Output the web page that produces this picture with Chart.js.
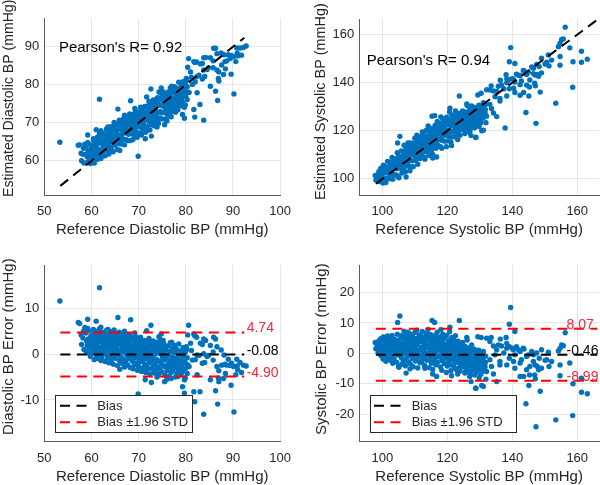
<!DOCTYPE html>
<html><head><meta charset="utf-8">
<script src="https://cdn.jsdelivr.net/npm/chart.js@4.4.1/dist/chart.umd.min.js"></script>
<style>
html,body{margin:0;padding:0;background:#fff;width:600px;height:485px;overflow:hidden;}
.p{position:absolute;}
canvas{display:block;}
</style></head><body>
<div class="p" style="left:0;top:0"><canvas id="c1" width="300" height="240" style="width:300px;height:240px"></canvas></div>
<div class="p" style="left:300px;top:0"><canvas id="c2" width="300" height="240" style="width:300px;height:240px"></canvas></div>
<div class="p" style="left:0;top:240px"><canvas id="c3" width="300" height="245" style="width:300px;height:245px"></canvas></div>
<div class="p" style="left:300px;top:240px"><canvas id="c4" width="300" height="245" style="width:300px;height:245px"></canvas></div>
<script>
// ---------------- DATA ----------------
// Diastolic: reference value and error (estimated - reference)
const refDia = [
 57.8,57.9,58.2,58.4,58.3,
 58.8,59.0,58.9,59.1,59.4,59.3,59.5,59.4,59.6,
 59.9,60.0,59.8,60.1,59.9,60.4,60.3,60.5,60.4,60.6,60.3,
 60.9,61.0,60.8,61.1,60.9,61.0,61.3,61.4,61.2,61.3,61.5,61.4,
 61.8,61.9,61.7,62.0,61.8,61.9,61.7,62.3,62.2,62.4,62.3,62.5,62.2,
 62.7,62.8,62.6,62.9,62.7,62.8,63.2,63.1,63.3,63.2,63.4,63.1,
 63.7,63.6,63.8,63.7,63.9,63.6,64.1,64.2,64.0,64.1,64.3,64.2,
 64.6,64.5,64.7,64.6,64.8,64.5,65.0,65.1,64.9,65.0,65.2,65.1,
 65.5,65.4,65.6,65.5,65.7,65.4,65.9,66.0,65.8,65.9,66.1,66.0,
 66.4,66.3,66.5,66.4,66.6,66.3,66.8,66.9,66.7,66.8,67.0,66.9,
 67.3,67.2,67.4,67.3,67.5,67.2,67.7,67.8,67.6,67.7,67.9,67.8,
 68.2,68.1,68.3,68.2,68.4,68.1,68.6,68.7,68.5,68.6,68.8,68.7,
 69.1,69.0,69.2,69.1,69.3,69.0,69.5,69.6,69.4,69.5,69.7,69.6,
 70.0,69.9,70.1,70.0,70.2,69.9,70.4,70.5,70.3,70.4,70.6,70.5,
 70.9,70.8,71.0,70.9,71.1,70.8,71.3,71.4,71.2,71.3,71.5,71.4,
 71.8,71.7,71.9,71.8,72.0,71.7,72.2,72.3,72.1,72.2,72.4,72.3,
 72.7,72.6,72.8,72.7,72.9,72.6,73.1,73.2,73.0,73.1,73.3,
 73.6,73.5,73.7,73.6,73.8,74.0,74.1,73.9,74.0,74.2,74.1,
 74.5,74.4,74.6,74.5,74.7,74.9,75.0,74.8,74.9,75.1,
 75.4,75.3,75.5,75.4,75.6,75.8,75.9,75.7,75.8,76.0,
 76.3,76.2,76.4,76.3,76.5,76.7,76.8,76.6,76.7,76.9,
 77.2,77.1,77.3,77.2,77.6,77.7,77.5,77.6,77.8,
 78.1,78.0,78.2,78.1,78.5,78.6,78.4,78.5,
 79.0,78.9,79.1,79.0,79.4,79.5,79.3,79.4,
 79.9,79.8,80.0,79.9,80.3,80.4,80.2,
 53.3,61.7,57.2,57.5,59.2,61.0,65.6,68.3,72.6,59.2,62.0,71.7,74.8,
 80.6,80.4,81.9,82.3,83.8,86.3,83.1,85.2,86.6,87.5,85.8,88.1,
 89.0,89.7,90.8,91.5,92.2,92.8,90.9,90.1,88.7,86.6,85.8,84.5,
 83.5,82.4,81.4,80.7,80.3,79.7,79.3,79.7,81.7,81.9,83.0,83.8,
 86.3,86.75,90.2,89.6,88.0,87.0,85.2,82.4,69.9,71.4,72.7,75.5,
 76.9,78.3,78.6,81.0,81.7,82.8,83.5,84.2,85.9,86.9,88.3,89.4,
 90.6,91.8,87.6,83.8,80.1,81.2,82.0,84.0,84.8,87.0,88.4,91.0,
 63.5,64.8,67.0,69.2,66.0,60.5,58.6,77.0,76.0,73.9,74.3,75.2
];
const errDia = [
 4.2,2.1,3.5,1.0,5.0,
 4.6,2.8,0.6,1.9,5.1,3.3,1.4,0.2,2.5,
 4.0,2.2,-0.5,1.1,3.0,5.4,3.7,1.8,0.3,-1.2,2.6,
 4.5,2.9,1.2,-0.4,3.8,0.7,5.0,3.4,2.0,-0.9,1.5,0.1,
 4.1,2.7,1.0,-1.4,3.3,0.4,5.5,4.8,3.0,1.7,-0.2,2.3,-1.0,
 3.9,2.4,0.8,-1.6,4.5,1.4,5.2,3.6,1.9,0.0,-0.8,2.8,
 4.3,2.5,1.1,-1.9,3.4,0.5,4.9,3.1,1.6,-0.5,2.2,-1.3,
 3.8,2.0,0.3,-2.2,4.4,1.2,4.6,2.9,1.4,-0.9,0.6,3.6,
 3.3,1.8,-0.2,-2.5,4.1,2.5,4.8,2.6,0.9,-1.4,3.2,0.1,
 3.7,2.1,0.4,-2.0,1.3,-0.7,4.3,2.8,1.0,-1.1,-2.8,3.4,
 3.5,1.6,-0.1,-1.7,2.4,0.7,4.0,2.2,0.5,-2.4,-0.9,3.0,
 3.1,1.3,-0.4,-2.9,1.9,4.2,3.6,2.0,0.2,-1.5,-3.2,0.9,
 2.8,1.1,-0.8,-2.3,3.9,0.3,3.3,1.6,-0.2,-1.9,-3.5,2.4,
 2.5,0.8,-1.1,-2.7,1.5,-0.4,3.7,1.9,0.1,-1.6,-3.8,2.9,
 2.2,0.5,-1.3,-3.0,1.2,-0.6,3.0,1.4,-0.5,-2.2,-4.0,0.2,
 2.6,0.9,-1.0,-2.8,1.8,-3.6,3.4,1.5,-0.3,-1.9,-4.3,0.6,
 2.0,0.3,-1.5,-3.2,2.7,-0.7,2.9,1.0,-0.8,-2.5,-4.1,
 1.7,0.0,-1.8,-3.5,2.4,2.6,0.7,-1.2,-2.9,-4.4,1.5,
 1.9,0.2,-1.6,-3.3,3.1,1.2,-0.5,-2.2,-3.9,2.3,
 2.1,0.4,-1.3,-2.7,-4.6,0.9,-0.9,-2.5,1.6,-3.6,
 1.8,-0.2,-1.9,-3.1,-4.8,0.6,-1.4,-2.8,2.5,-4.0,
 1.3,-0.6,-2.2,-3.6,0.3,-1.6,-3.0,1.9,-5.0,
 1.0,-0.9,-2.5,-4.2,-0.1,-1.8,-3.4,2.2,
 0.7,-1.2,-2.7,-4.5,-0.4,-2.0,-3.8,1.4,
 0.4,-1.5,-3.1,-5.2,-0.8,-2.3,1.0,
 11.6,14.5,6.9,6.7,7.6,7.2,8.0,7.5,6.3,5.6,5.9,5.1,4.4,
 6.3,4.2,4.0,3.7,3.3,3.3,2.4,1.9,1.6,0.9,0.5,-0.2,
 -1.1,-2.0,-1.1,-1.8,-2.4,-2.6,-2.6,-2.7,-2.4,-2.7,-1.3,-0.5,
 -2.0,-0.2,-1.3,-2.7,-4.2,-5.6,-7.1,-8.5,-8.2,-10.4,-8.2,-13.1,
 -8.0,-10.9,-12.6,-6.8,-5.3,-6.0,-5.6,-4.5,-8.7,-5.6,-6.2,-6.0,
 -5.3,-4.9,-3.8,2.4,4.4,-0.3,2.1,3.0,3.7,-5.2,-2.2,-2.5,
 -4.5,-4.0,-2.4,0.1,1.6,0.8,-1.2,-1.8,-0.3,-3.6,-4.2,-3.4,
 5.4,5.3,5.0,4.6,-3.3,4.7,5.8,2.6,-5.5,-5.0,3.8,3.0
];
// Systolic: reference value and error (estimated - reference)
const refSys = [
 98.0,98.3,98.8,98.7,98.9,99.5,99.4,99.6,99.5,
 100.2,100.1,100.3,100.2,100.4,100.9,101.0,100.8,100.9,101.1,
 101.6,101.5,101.7,101.6,101.8,102.3,102.4,102.2,102.3,102.5,
 103.0,102.9,103.1,103.0,103.2,103.7,103.8,103.6,103.7,103.9,
 104.4,104.3,104.5,104.4,104.6,105.1,105.2,105.0,105.1,105.3,
 105.8,105.7,105.9,105.8,106.0,105.7,106.5,106.6,106.4,106.5,106.7,106.4,
 107.2,107.1,107.3,107.2,107.4,107.1,107.9,108.0,107.8,107.9,108.1,107.8,
 108.6,108.5,108.7,108.6,108.8,108.5,109.3,109.4,109.2,109.3,109.5,109.2,
 110.0,109.9,110.1,110.0,110.2,109.9,110.7,110.8,110.6,110.7,110.9,110.6,
 111.4,111.3,111.5,111.4,111.6,111.3,112.1,112.2,112.0,112.1,112.3,112.0,
 112.8,112.7,112.9,112.8,113.0,112.7,113.5,113.6,113.4,113.5,113.7,113.4,
 114.2,114.1,114.3,114.2,114.4,114.1,114.9,115.0,114.8,114.9,115.1,114.8,
 115.6,115.5,115.7,115.6,115.8,115.5,116.3,116.4,116.2,116.3,116.5,116.2,
 117.0,116.9,117.1,117.0,117.2,116.9,117.7,117.8,117.6,117.7,117.9,117.6,
 118.4,118.3,118.5,118.4,118.6,118.3,119.1,119.2,119.0,119.1,119.3,119.0,
 119.8,119.7,119.9,119.8,120.0,119.7,120.5,120.6,120.4,120.5,120.7,120.4,
 121.2,121.1,121.3,121.2,121.4,121.1,121.9,122.0,121.8,121.9,122.1,121.8,
 122.6,122.5,122.7,122.6,122.8,122.5,123.3,123.4,123.2,123.3,123.5,123.2,
 124.0,123.9,124.1,124.0,124.2,123.9,124.7,124.8,124.6,124.7,124.9,
 125.4,125.3,125.5,125.4,125.6,126.1,126.2,126.0,126.1,126.3,
 126.8,126.7,126.9,126.8,127.0,127.5,127.6,127.4,127.5,127.7,
 128.2,128.1,128.3,128.2,128.4,128.9,129.0,128.8,128.9,
 129.6,129.5,129.7,129.6,129.8,130.3,130.4,130.2,130.3,
 131.0,130.9,131.1,131.0,131.7,131.8,131.6,
 97.8,105.4,104.7,115.3,116.1,123.7,139.5,139.1,140.8,156.3,154.7,155.2,
 155.7,154.2,151.1,157.7,154.7,158.7,161.3,161.3,163.1,158.6,153.4,147.3,
 144.2,137.8,148.6,145.1,143.5,146.9,148.1,147.7,147.1,150.1,151.3,154.7,
 142.8,141.9,140.4,139.1,140.8,136.2,135.2,134.2,131.9,130.6,128.8,131.1,
 135.7,136.3,138.1,133.5,133.1,132.1,130.4,129.4,126.0,138.3,140.0,143.6,
 144.9,146.5,148.3,145.3,145.4,142.4,134.2,135.2,136.7,137.4,138.3,139.1,
 140.3,141.3,142.4,143.4,144.4,146.0,146.5,147.5,149.0,150.6,142.4,138.3,
 136.2,134.7,133.1,133.6,131.5,132.1,140.8,144.4,147.0,149.0,152.1,107.3,
 108.5,113.1,116.7,115.5,121.3,125.4,126.9,127.3,128.7,105.0,120.8,118.0
];
const errSys = [
 1.5,3.0,2.4,0.2,4.1,3.0,1.0,-0.8,4.8,
 2.1,0.4,5.4,-1.9,3.6,4.3,1.6,-0.6,2.8,-2.6,
 3.2,0.9,-1.4,5.7,1.9,4.6,2.4,0.1,-2.2,3.5,
 1.3,-0.9,3.9,5.9,-3.3,2.7,0.5,-1.8,4.7,1.8,
 3.6,1.2,-0.3,-2.9,6.3,2.2,-0.7,4.4,-4.6,1.0,
 3.3,0.8,-1.5,5.8,-3.6,2.0,4.9,1.6,-0.2,-2.6,7.3,3.1,
 2.6,0.3,-1.9,6.2,4.0,-4.1,3.8,1.1,-0.9,7.0,-2.8,5.2,
 2.3,-0.4,4.6,-3.5,1.4,6.4,3.1,0.6,-1.7,5.5,-4.4,2.0,
 4.2,1.5,-0.6,6.9,-2.5,3.0,2.7,0.2,-2.2,5.0,-4.8,7.6,
 3.7,1.0,-1.1,6.1,-3.1,4.6,2.0,-0.5,4.1,-2.7,7.2,5.6,
 3.3,0.7,-1.6,5.2,-4.0,1.9,4.4,1.8,-0.4,6.6,-2.3,2.9,
 2.5,0.1,-2.0,5.7,-4.7,7.9,3.6,1.2,-1.0,4.8,-3.3,6.2,
 2.1,-0.3,5.5,-2.6,3.9,-5.3,3.1,0.6,-1.5,6.0,-3.8,4.7,
 1.6,-0.8,4.3,-2.9,2.5,7.0,3.4,0.9,-1.2,5.4,-4.5,2.0,
 2.2,-0.2,3.8,-2.4,6.3,-5.6,1.3,-1.1,4.9,-3.4,2.8,0.3,
 3.0,0.5,-1.8,5.9,-4.2,-6.3,1.9,-0.6,4.2,-2.7,7.1,2.6,
 0.8,-1.5,3.3,-3.8,5.2,-5.7,2.4,0.0,-2.1,4.5,-4.6,1.3,
 1.1,-1.0,3.1,-3.0,-5.3,5.8,2.0,-0.3,-2.5,4.0,-4.9,-6.8,
 0.6,-1.7,2.8,-3.6,1.5,-5.8,1.7,-0.8,-2.8,3.6,-4.4,
 0.2,-2.0,2.3,-3.9,-6.0,1.3,-1.2,-3.2,4.4,-5.2,
 -0.2,-2.4,1.9,-4.6,-6.7,0.9,-1.6,-3.5,2.8,-5.5,
 -0.7,-2.9,1.4,-4.8,-7.1,0.4,-2.1,-4.1,-6.2,
 -1.1,-3.2,1.0,-5.3,-8.0,-0.3,-2.6,-4.6,-6.9,
 -1.7,-3.8,0.6,-5.8,-2.9,-0.9,-4.5,
 3.6,12.3,10.2,10.8,10.2,10.8,15.1,9.6,7.2,6.8,1.7,2.8,
 2.5,0.8,0.4,-3.2,-3.8,-10.0,-8.2,-12.8,-13.3,-20.5,-21.9,-24.2,
 -16.6,-16.6,-12.5,-10.6,-7.6,-7.1,-5.4,-4.3,-8.4,-2.3,-4.3,-7.4,
 -2.1,1.2,-2.7,-1.6,-0.5,-3.8,-9.3,-6.8,-8.5,-10.6,-11.5,-10.9,
 2.8,4.7,5.2,5.2,3.9,5.0,5.2,5.5,5.2,1.7,1.7,1.4,
 -0.5,-0.5,-1.6,-7.1,-4.3,-7.6,2.4,1.2,2.4,0.1,3.3,2.2,
 1.2,2.2,0.6,1.7,-1.0,0.6,-2.7,0.1,1.2,-2.1,-3.2,-3.8,
 -2.7,-0.5,-2.1,-4.3,-3.8,-6.0,-4.9,-5.4,-3.8,-4.9,-2.7,-6.5,
 -5.1,-4.9,-7.6,-6.8,-7.4,-6.5,-7.6,-9.3,-11.5,-4.3,8.6,7.8
];
// summary statistics shown on the plots
const pearsonDia = 0.92, pearsonSys = 0.94;
const biasDia = -0.08, upperDia = 4.74, lowerDia = -4.90;
const biasSys = -0.46, upperSys = 8.07, lowerSys = -8.99;
// extent of the reference lines along x
const lineRangeDia = [53.4, 92.4];
const lineRangeSys = [98.0, 166.2];

// ---------------- STYLE ----------------
const FONT = "'Liberation Sans', Arial, Helvetica, sans-serif";
const AX = '#262626';
const AXLINE = '#5c5c5c';
const GRID = '#e6e6e6';
const BLUE = '#0072BD';
const RED = '#ff0000';
const DASH = [10, 6.5];

function pts(xs, ys) {
  const n = Math.min(xs.length, ys.length), out = [];
  for (let i = 0; i < n; i++) out.push({x: xs[i], y: ys[i]});
  return out;
}
function estPts(ref, err) {
  const n = Math.min(ref.length, err.length), out = [];
  for (let i = 0; i < n; i++) out.push({x: ref[i], y: +(ref[i] + err[i]).toFixed(2)});
  return out;
}
function hline(range, v, color) {
  return {data: [{x: range[0], y: v}, {x: range[1], y: v}], showLine: true, borderColor: color,
    borderWidth: 2, borderDash: DASH, pointRadius: 0, pointHoverRadius: 0, fill: false, order: 0};
}
function idline(range) {
  return {data: [{x: range[0], y: range[0]}, {x: range[1], y: range[1]}], showLine: true, borderColor: '#000',
    borderWidth: 2, borderDash: DASH, pointRadius: 0, pointHoverRadius: 0, fill: false, order: 0};
}
function scatterSet(data) {
  return {data, showLine: false, pointRadius: 2.7, pointHoverRadius: 2.7, pointBorderWidth: 0,
    pointBackgroundColor: BLUE, backgroundColor: BLUE, borderColor: BLUE, order: 1};
}
function xScale(min, max, step, title, h, titlePad) {
  return {type: 'linear', position: 'bottom', min, max,
    ticks: {stepSize: step, includeBounds: false, color: AX, font: {family: FONT, size: 13}, padding: 9, maxRotation: 0, autoSkip: false},
    grid: {color: GRID, drawTicks: false, lineWidth: 1},
    border: {display: true, color: AXLINE, width: 1},
    title: {display: true, text: title, color: AX, font: {family: FONT, size: 15, lineHeight: 1}, padding: {top: 0, bottom: titlePad}},
    afterFit(s) { s.height = h; }};
}
function yScale(min, max, step, w, pad) {
  return {type: 'linear', position: 'left', min, max,
    ticks: {stepSize: step, includeBounds: false, color: AX, font: {family: FONT, size: 13}, padding: pad, autoSkip: false},
    grid: {color: GRID, drawTicks: false, lineWidth: 1},
    border: {display: true, color: AXLINE, width: 1},
    title: {display: false},
    afterFit(s) { s.width = w; }};
}

const extras = {
  id: 'extras',
  afterDraw(chart, args, o) {
    const ctx = chart.ctx, xs = chart.scales.x, ys = chart.scales.y, ca = chart.chartArea;
    ctx.save();
    if (o.yTitle) {
      ctx.save();
      ctx.translate(o.yTitle.x, o.yTitle.y);
      ctx.rotate(-Math.PI / 2);
      ctx.font = o.yTitle.size + 'px ' + FONT; ctx.fillStyle = AX; ctx.textAlign = 'left'; ctx.textBaseline = 'middle';
      ctx.fillText(o.yTitle.text, 0, 0);
      ctx.restore();
    }
    for (const a of (o.notes || [])) {
      ctx.font = a.size + 'px ' + FONT; ctx.fillStyle = a.color; ctx.textAlign = 'left';
      ctx.textBaseline = a.baseline || 'middle';
      ctx.fillText(a.text, xs.getPixelForValue(a.x), ys.getPixelForValue(a.y));
    }
    if (o.legend) {
      const L = o.legend;
      const left = ca.left + L.dx, bottom = ca.bottom - L.dy, top = bottom - L.h;
      ctx.fillStyle = '#fff';
      ctx.fillRect(left, top, L.w, L.h);
      ctx.strokeStyle = AX; ctx.lineWidth = 1; ctx.setLineDash([]);
      ctx.strokeRect(Math.round(left) + 0.5, Math.round(top) + 0.5, Math.round(L.w), Math.round(L.h));
      L.items.forEach((it, i) => {
        const cy = top + L.row0 + i * L.rowGap;
        ctx.strokeStyle = it.color; ctx.lineWidth = 2; ctx.setLineDash(DASH);
        ctx.beginPath(); ctx.moveTo(left + L.l0, cy); ctx.lineTo(left + L.l1, cy); ctx.stroke();
        ctx.setLineDash([]);
        ctx.font = '13px ' + FONT; ctx.fillStyle = AX; ctx.textAlign = 'left'; ctx.textBaseline = 'middle';
        ctx.fillText(it.label, left + L.tx, cy + 0.5);
      });
    }
    ctx.restore();
  }
};

function make(id, datasets, scales, pad, extrasOpts) {
  return new Chart(document.getElementById(id), {
    type: 'scatter',
    data: {datasets},
    options: {
      responsive: false, animation: false, devicePixelRatio: 1, events: [],
      layout: {padding: pad, autoPadding: false},
      plugins: {legend: {display: false}, tooltip: {enabled: false}, title: {display: false}, extras: extrasOpts},
      scales
    },
    plugins: [extras]
  });
}

const legendItems = [{label: 'Bias', color: '#000'}, {label: 'Bias \u00b11.96 STD', color: RED}];

// Top-left: estimated vs reference diastolic
make('c1', [idline(lineRangeDia), scatterSet(estPts(refDia, errDia))],
  {x: xScale(50, 100, 10, 'Reference Diastolic BP (mmHg)', 45, 2.5), y: yScale(51, 97.5, 10, 44.3, 5)},
  {top: 18.3, right: 16, left: 0, bottom: 0},
  {yTitle: {text: 'Estimated Diastolic BP (mmHg)', x: 9.5, y: 197, size: 14.1},
   notes: [{text: "Pearson's R= " + pearsonDia.toFixed(2), x: 53.1, y: 89.6, size: 15, color: '#000'}]});

// Top-right: estimated vs reference systolic
make('c2', [idline(lineRangeSys), scatterSet(estPts(refSys, errSys))],
  {x: xScale(92.9, 166.7, 20, 'Reference Systolic BP (mmHg)', 45, 2.5), y: yScale(93.3, 166.5, 20, 59.3, 5)},
  {top: 19, right: 1, left: 0, bottom: 0},
  {yTitle: {text: 'Estimated Systolic BP (mmHg)', x: 21, y: 200, size: 14.4},
   notes: [{text: "Pearson's R= " + pearsonSys.toFixed(2), x: 95.2, y: 149.1, size: 15, color: '#000'}]});

// Bottom-left: Bland-Altman diastolic
make('c3', [hline(lineRangeDia, biasDia, '#000'), hline(lineRangeDia, upperDia, RED), hline(lineRangeDia, lowerDia, RED),
            scatterSet(pts(refDia, errDia))],
  {x: xScale(50, 100, 10, 'Reference Diastolic BP (mmHg)', 43.3, 0.3), y: yScale(-19.1, 19.45, 10, 44.3, 5)},
  {top: 25, right: 16, left: 0, bottom: 0},
  {yTitle: {text: 'Diastolic BP Error (mmHg)', x: 9, y: 195, size: 15},
   notes: [
     {text: upperDia.toFixed(2), x: 92.9, y: upperDia, size: 14, color: '#f0283c', baseline: 'alphabetic'},
     {text: biasDia.toFixed(2), x: 92.9, y: biasDia, size: 14, color: '#000', baseline: 'alphabetic'},
     {text: lowerDia.toFixed(2), x: 92.9, y: lowerDia, size: 14, color: '#f0283c', baseline: 'alphabetic'}],
   legend: {dx: 10.7, dy: 9.4, w: 136.7, h: 37.3, row0: 10.7, rowGap: 16.6, l0: 5, l1: 31.7, tx: 42.3, items: legendItems}});

// Bottom-right: Bland-Altman systolic
make('c4', [hline(lineRangeSys, biasSys, '#000'), hline(lineRangeSys, upperSys, RED), hline(lineRangeSys, lowerSys, RED),
            scatterSet(pts(refSys, errSys))],
  {x: xScale(92.9, 166.7, 20, 'Reference Systolic BP (mmHg)', 43.3, 0.3), y: yScale(-29.1, 29.1, 10, 59.3, 5)},
  {top: 25, right: 1, left: 0, bottom: 0},
  {yTitle: {text: 'Systolic BP Error (mmHg)', x: 22, y: 195, size: 15},
   notes: [
     {text: upperSys.toFixed(2), x: 156.7, y: upperSys, size: 14, color: '#f0283c', baseline: 'alphabetic'},
     {text: biasSys.toFixed(2), x: 156.7, y: biasSys, size: 14, color: '#000', baseline: 'alphabetic'},
     {text: lowerSys.toFixed(2), x: 156.7, y: lowerSys, size: 14, color: '#f0283c', baseline: 'alphabetic'}],
   legend: {dx: 10.7, dy: 10, w: 146, h: 36.7, row0: 10.7, rowGap: 16.6, l0: 4, l1: 36, tx: 41.7, items: legendItems}});
</script>
</body></html>
